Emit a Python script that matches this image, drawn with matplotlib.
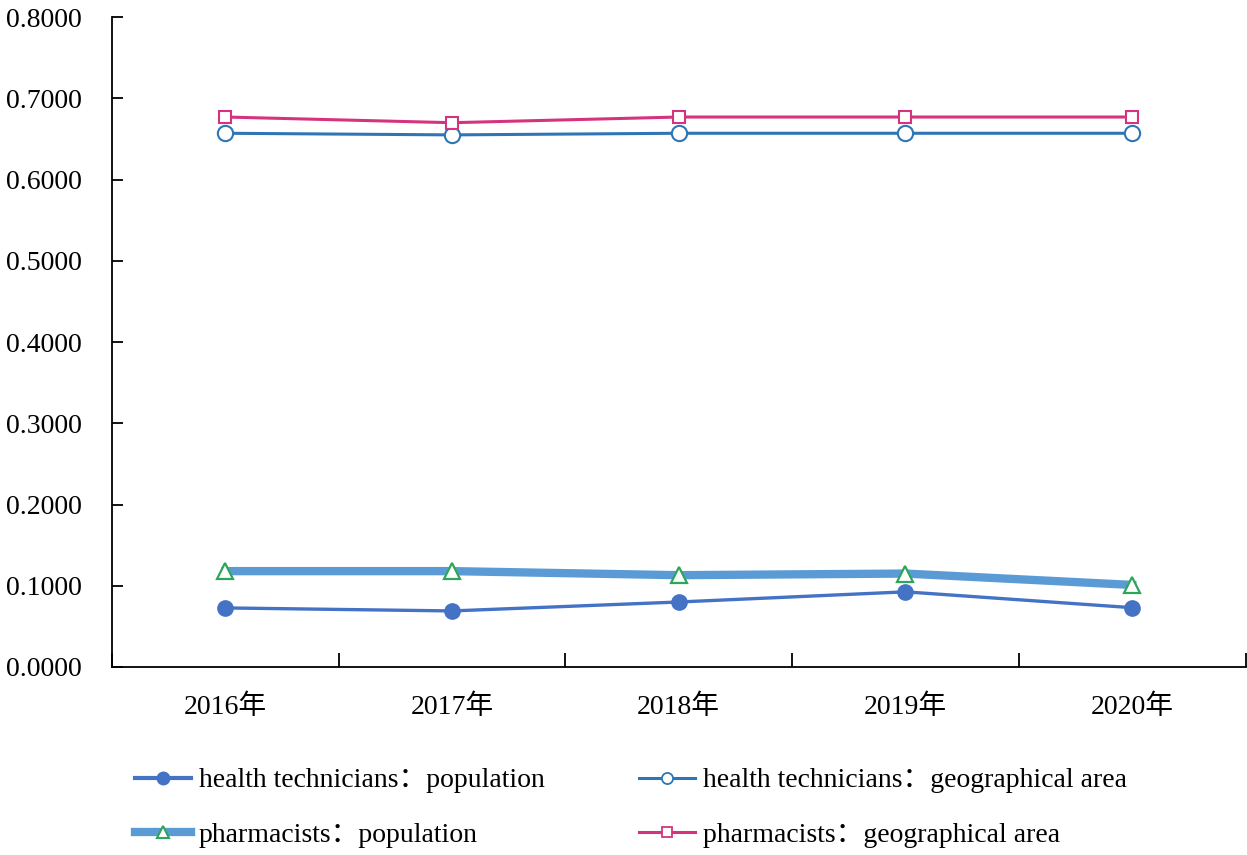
import matplotlib.pyplot as plt
from matplotlib.lines import Line2D

years = ["2016年", "2017年", "2018年", "2019年", "2020年"]
tech_pop = [0.0727, 0.0690, 0.0800, 0.0925, 0.0730]
tech_geo = [0.6570, 0.6550, 0.6570, 0.6570, 0.6570]
pharm_pop = [0.1180, 0.1180, 0.1130, 0.1150, 0.1010]
pharm_geo = [0.6770, 0.6700, 0.6770, 0.6770, 0.6770]
labels = ["health technicians：population",
          "health technicians：geographical area",
          "pharmacists：population",
          "pharmacists：geographical area"]

plt.rcParams["font.family"] = ["Liberation Serif", "Noto Sans CJK SC"]

fig = plt.figure(figsize=(12.47, 8.55), dpi=100)
ax = fig.add_axes([0.0898, 0.2199, 0.909, 0.7601])
x = range(len(years))

ax.plot(x, pharm_pop, color="#5B9BD5", lw=6, marker="^", ms=11,
        mfc="white", mec="#2EA65A", mew=1.6, zorder=2)
ax.plot(x, tech_pop, color="#4472C4", lw=2.4, marker="o", ms=11,
        mfc="#4472C4", mec="#4472C4", zorder=3)
ax.plot(x, tech_geo, color="#2E75B6", lw=2.2, marker="o", ms=11,
        mfc="white", mec="#2E75B6", mew=1.5, zorder=3)
ax.plot(x, pharm_geo, color="#D6337F", lw=2.2, marker="s", ms=9,
        mfc="white", mec="#D6337F", mew=1.5, zorder=3)

ax.set_ylim(0, 0.8)
ax.set_xlim(-0.5, 4.5)
ax.set_yticks([i / 10 for i in range(9)])
ax.set_yticklabels([f"{i / 10:.4f}" for i in range(9)])
# category boundaries get the tick marks, centres get the labels
ax.set_xticks([i - 0.5 for i in range(6)])
ax.set_xticklabels([])
ax.set_xticks(list(x), minor=True)
ax.set_xticklabels(years, minor=True)

ax.tick_params(axis="y", direction="in", length=8, width=1.3, labelsize=20, pad=22)
ax.tick_params(axis="x", which="major", direction="in", length=10, width=1.3)
ax.tick_params(axis="x", which="minor", length=0, labelsize=20, pad=20)
for side in ["top", "right"]:
    ax.spines[side].set_visible(False)
for side in ["left", "bottom"]:
    ax.spines[side].set_linewidth(1.3)

# legend: technicians on the first row, pharmacists on the second
legend_handles = [
    Line2D([], [], color="#4472C4", lw=3, marker="o", ms=9, mfc="#4472C4", mec="#4472C4"),
    Line2D([], [], color="#5B9BD5", lw=6, marker="^", ms=9, mfc="white", mec="#2EA65A", mew=1.5),
    Line2D([], [], color="#2E75B6", lw=2.2, marker="o", ms=8, mfc="white", mec="#2E75B6", mew=1.3),
    Line2D([], [], color="#D6337F", lw=2.2, marker="s", ms=7, mfc="white", mec="#D6337F", mew=1.3),
]
fig.legend(legend_handles, [labels[0], labels[2], labels[1], labels[3]],
           ncol=2, loc="upper left", bbox_to_anchor=(135 / 1247, 1 - 768 / 855),
           frameon=False, fontsize=20, handlelength=2.0, handletextpad=0.3,
           columnspacing=3.4, labelspacing=1.05, borderpad=0, borderaxespad=0)

fig.savefig("out.png", dpi=100)
